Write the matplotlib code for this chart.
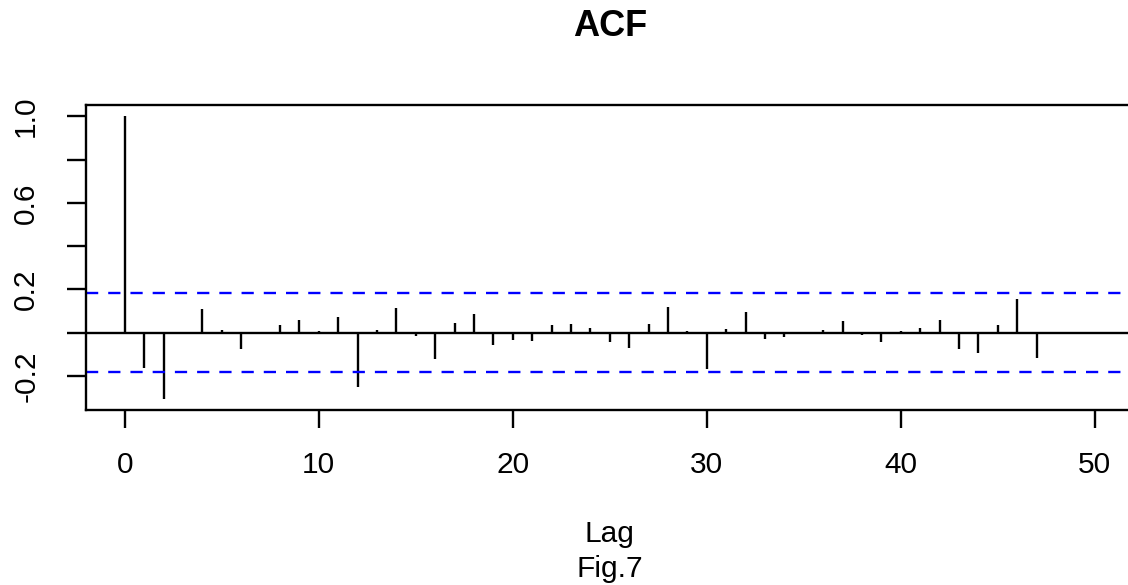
import matplotlib
matplotlib.use("Agg")
import matplotlib.pyplot as plt
import numpy as np

plt.rcParams['font.family'] = ['Liberation Sans', 'DejaVu Sans']
plt.rcParams['lines.scale_dashes'] = False

lags = list(range(0, 51))
acf = [1.000, -0.165, -0.308, -0.008, 0.110, 0.012, -0.078, -0.008, 0.033, 0.059,
       0.008, 0.071, -0.253, 0.011, 0.112, -0.015, -0.124, 0.044, 0.084, -0.058,
       -0.035, -0.039, 0.036, 0.039, 0.019, -0.042, -0.073, 0.038, 0.119, 0.005,
       -0.170, 0.016, 0.094, -0.028, -0.021, -0.008, 0.013, 0.053, -0.012, -0.045,
       0.005, 0.021, 0.056, -0.075, -0.096, 0.033, 0.153, -0.119, -0.003, -0.003,
       -0.001]
ci = 0.183
xticks = [0, 10, 20, 30, 40, 50]
yticks = [-0.2, 0.0, 0.2, 0.4, 0.6, 0.8, 1.0]
ytick_labels = ['-0.2', '', '0.2', '', '0.6', '', '1.0']

W, H = 1128, 585
LW = 1.7
FS = 21.5
fig = plt.figure(figsize=(W / 100, H / 100), dpi=100)
ax = fig.add_axes([86 / W, (H - 410) / H, (1133.5 - 86) / W, (410 - 105) / H])

ax.vlines(lags, 0, acf, color='black', lw=LW)
ax.axhline(0, color='black', lw=LW)
for c in (ci, -ci):
    ax.axhline(c, color='#0000ff', lw=LW, ls=(0, (8.8, 7.2)))

ax.set_xlim(-2, 52)
ax.set_ylim(-0.3584, 1.0523)
for s in ax.spines.values():
    s.set_linewidth(LW)

ax.set_xticks(xticks)
ax.set_xticklabels([str(t) for t in xticks])
ax.set_yticks(yticks)
ax.set_yticklabels(ytick_labels, rotation=90, va='center')
ax.tick_params(axis='x', length=13, width=LW, pad=16.5, labelsize=FS)
ax.tick_params(axis='y', length=14, width=LW, pad=19, labelsize=FS)

fig.text(609.7 / W, 1 - 36 / H, 'ACF', ha='center', va='baseline',
         fontsize=26, fontweight='bold')
fig.text(609.7 / W, 1 - 541.7 / H, 'Lag', ha='center', va='baseline', fontsize=FS)
fig.text(609.7 / W, 1 - 576.7 / H, 'Fig.7', ha='center', va='baseline', fontsize=FS)

fig.savefig('out.png', dpi=100)
